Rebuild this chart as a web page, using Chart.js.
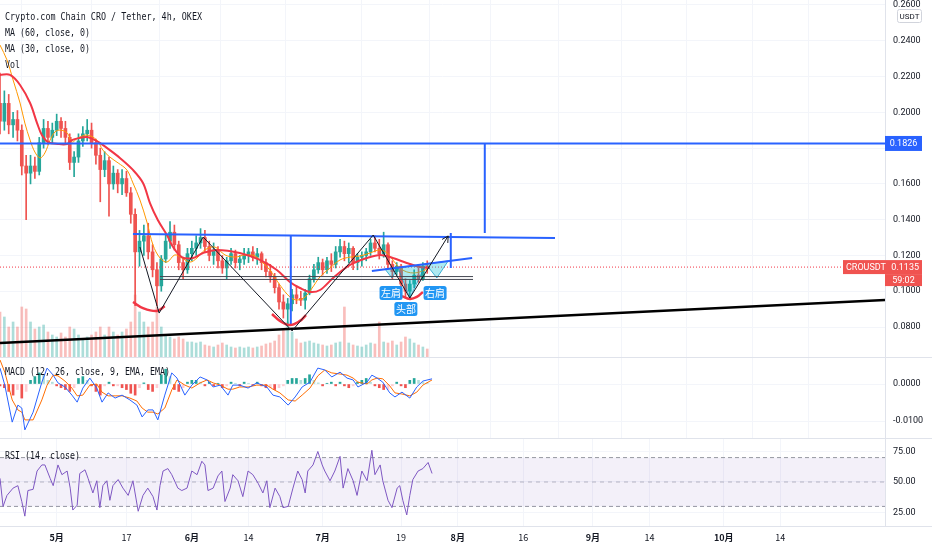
<!DOCTYPE html>
<html>
<head>
<meta charset="utf-8">
<script src="https://cdn.jsdelivr.net/npm/chart.js@4.4.0/dist/chart.umd.min.js"></script>
<style>
  html, body { margin: 0; padding: 0; background: #fff; width: 932px; height: 550px; overflow: hidden; }
  canvas { position: absolute; left: 0; }
  #cMain { top: 0; }
  #cMacd { top: 357px; }
  #cRsi { top: 438px; }
</style>
</head>
<body>
<canvas id="cMain" width="932" height="357"></canvas>
<canvas id="cMacd" width="932" height="81"></canvas>
<canvas id="cRsi" width="932" height="112"></canvas>
<script>
// day index 0 = 2021-04-18, one candle per day
const dayIdx = Array.from({ length: 99 }, (_, i) => i);

const openP = [0.205,0.195,0.205,0.193,0.196,0.190,0.170,0.166,0.170,0.167,
  0.183,0.191,0.186,0.190,0.195,0.191,0.186,0.172,0.175,0.184,
  0.188,0.190,0.183,0.176,0.168,0.173,0.160,0.166,0.160,0.163,
  0.155,0.143,0.122,0.128,0.131,0.122,0.112,0.103,0.118,0.128,
  0.133,0.126,0.116,0.112,0.121,0.124,0.127,0.130,0.125,0.120,
  0.123,0.117,0.113,0.117,0.121,0.116,0.118,0.120,0.122,0.119,
  0.121,0.116,0.111,0.108,0.102,0.094,0.090,0.093,0.098,0.096,
  0.095,0.099,0.107,0.112,0.116,0.112,0.117,0.115,0.122,0.125,
  0.121,0.124,0.116,0.119,0.120,0.122,0.127,0.124,0.121,0.126,
  0.115,0.111,0.114,0.104,0.100,0.104,0.109,0.107,0.114];
const highP = [0.222,0.212,0.210,0.200,0.201,0.193,0.176,0.176,0.175,0.186,
  0.196,0.195,0.194,0.199,0.197,0.195,0.188,0.178,0.188,0.192,
  0.196,0.194,0.185,0.180,0.178,0.175,0.170,0.168,0.168,0.167,
  0.158,0.146,0.134,0.137,0.138,0.126,0.116,0.120,0.132,0.139,
  0.137,0.128,0.119,0.124,0.128,0.131,0.135,0.134,0.128,0.127,
  0.125,0.120,0.119,0.124,0.123,0.120,0.124,0.124,0.125,0.124,
  0.122,0.118,0.115,0.110,0.104,0.098,0.096,0.101,0.103,0.100,
  0.101,0.109,0.115,0.119,0.118,0.119,0.121,0.125,0.129,0.128,
  0.127,0.125,0.121,0.122,0.124,0.129,0.131,0.129,0.133,0.127,
  0.117,0.116,0.115,0.107,0.106,0.112,0.113,0.116,0.117];
const lowP = [0.188,0.190,0.188,0.186,0.184,0.165,0.140,0.160,0.163,0.165,
  0.180,0.182,0.183,0.187,0.186,0.183,0.168,0.164,0.172,0.181,
  0.184,0.180,0.171,0.150,0.164,0.142,0.157,0.155,0.154,0.153,
  0.138,0.092,0.114,0.120,0.118,0.108,0.092,0.100,0.116,0.124,
  0.123,0.112,0.107,0.110,0.117,0.120,0.124,0.122,0.117,0.115,
  0.113,0.110,0.107,0.115,0.113,0.112,0.115,0.116,0.117,0.115,
  0.112,0.108,0.105,0.099,0.090,0.085,0.081,0.089,0.093,0.092,
  0.090,0.098,0.105,0.110,0.109,0.110,0.111,0.113,0.119,0.117,
  0.116,0.112,0.112,0.114,0.117,0.120,0.122,0.118,0.119,0.113,
  0.107,0.109,0.101,0.097,0.096,0.102,0.105,0.106,0.110];
const closeP = [0.195,0.205,0.193,0.196,0.190,0.170,0.166,0.170,0.167,0.183,
  0.191,0.186,0.190,0.195,0.191,0.186,0.172,0.175,0.184,0.188,
  0.190,0.183,0.176,0.168,0.173,0.160,0.166,0.160,0.163,0.155,
  0.143,0.122,0.128,0.131,0.122,0.112,0.103,0.118,0.128,0.133,
  0.126,0.116,0.112,0.121,0.124,0.127,0.130,0.125,0.120,0.123,
  0.117,0.113,0.117,0.121,0.116,0.118,0.120,0.122,0.119,0.121,
  0.116,0.111,0.108,0.102,0.094,0.090,0.093,0.098,0.096,0.095,
  0.099,0.107,0.112,0.116,0.112,0.117,0.115,0.122,0.125,0.121,
  0.124,0.116,0.119,0.120,0.122,0.127,0.124,0.121,0.126,0.115,
  0.111,0.114,0.104,0.100,0.104,0.109,0.107,0.114,0.1135];
const volume = [45,40,30,35,30,50,48,35,28,30,
  32,25,22,20,24,20,30,28,22,18,
  20,22,25,30,22,30,25,22,25,28,
  35,62,45,35,30,35,50,30,22,20,
  18,20,18,15,15,14,15,12,11,10,
  12,14,12,10,9,10,9,10,9,10,
  11,13,14,16,22,28,35,25,18,14,
  15,16,14,13,12,11,12,14,15,50,
  14,12,11,10,12,14,13,35,15,14,
  16,12,15,20,18,14,12,10,8];

// moving averages
const ma60Day = [0,2.3,4.6,6.9,8.5,9.6,11.0,13.3,15.4,16.5,18.3,20.0,21.8,22.9,25.2,27.5,30.5,32.8,34.4,36.2,
  38.3,39.7,41.7,44.3,46.6,49.8,55.0,59.6,63.5,66.5,68.8,71.1,73.4,76.4,80.3,84.2,87.2,90.1,93.3,96.3,98.6];
const ma60Val = [0.2209,0.2209,0.2153,0.2052,0.1940,0.1873,0.1834,0.1823,0.1823,0.1845,0.1857,0.1862,0.1845,0.1829,
  0.1789,0.1745,0.1678,0.1605,0.1493,0.1398,0.1314,0.1247,0.1191,0.1186,0.1214,0.1231,0.1214,0.1175,0.1119,
  0.1052,0.1018,0.0996,0.1007,0.1074,0.1147,0.1186,0.1203,0.1186,0.1158,0.1136,0.1130];
const ma30Day = [0,1.6,3.0,4.6,5.7,6.9,8.0,9.2,10.3,11.5,12.6,13.8,15.4,16.5,17.9,20.0,22.2,23.6,25.2,27.1,
  29.1,30.5,32.1,33.7,35.1,36.7,38.3,40.1,41.7,43.6,45.2,47.0,49.3,51.6,53.9,56.2,58.5,60.1,61.9,64.2,
  66.5,68.1,70.0,71.6,73.4,75.7,78.0,80.3,82.6,84.9,87.2,88.8,90.1,91.7,93.3,95.0,96.3,97.5,98.6];
const ma30Val = [0.2376,0.2293,0.2181,0.2052,0.1940,0.1845,0.1778,0.1745,0.1773,0.1845,0.1890,0.1901,0.1885,0.1834,
  0.1857,0.1873,0.1845,0.1789,0.1750,0.1717,0.1678,0.1605,0.1510,0.1387,0.1258,0.1186,0.1163,0.1203,0.1186,
  0.1163,0.1186,0.1231,0.1247,0.1203,0.1191,0.1203,0.1197,0.1163,0.1119,0.1035,0.0968,0.0951,0.0968,0.1018,
  0.1080,0.1130,0.1175,0.1191,0.1197,0.1214,0.1231,0.1214,0.1175,0.1130,0.1108,0.1102,0.1108,0.1119,0.1136];

// MACD pane (values in units of 0.001)
const MACD_UNIT = 0.001;
const macdDay = [0,1.1,2.8,4.1,5.0,5.7,7.6,9.6,10.8,12.2,13.3,14.9,16.5,17.7,19.0,20.6,22.2,23.4,24.8,26.4,
  28.0,29.8,31.4,32.6,33.9,35.1,36.2,37.8,39.4,40.6,42.4,44.0,45.9,47.5,48.9,50.5,52.3,53.4,55.0,56.9,
  58.9,61.2,62.6,64.2,66.1,67.7,69.3,71.1,72.9,74.5,76.1,78.0,79.6,81.0,82.1,84.2,85.3,86.5,87.8,89.4,
  90.6,92.2,94.0,95.6,97.0,99.1];
const macdVal = [4.3,-0.3,-10.3,-5.7,-6.5,-12.4,-7.6,0.5,4.3,2.4,0.3,-0.8,-3.0,-4.9,-1.1,1.6,-1.1,-4.9,-2.4,-3.8,
  -3.0,-4.3,-5.7,-8.9,-7.0,-7.0,-9.7,-3.0,3.0,1.6,-3.0,-0.3,1.9,1.1,-0.8,-0.3,-3.0,-0.3,-0.3,-1.1,
  0.3,-0.8,-3.0,-3.5,-5.7,-3.5,-0.8,0.5,4.3,3.8,1.9,3.2,1.6,1.1,-0.8,0.5,2.4,1.6,0.5,-2.4,
  -3.5,-2.2,-3.8,-0.8,0.8,1.4];
const signalVal = [6.5,3.2,-4.3,-7.0,-7.6,-9.7,-9.7,-4.3,-0.3,2.4,2.2,0.8,-1.1,-3.2,-3.0,-0.3,0,-2.2,-3.2,-3.2,
  -3.2,-3.8,-4.6,-6.5,-7.6,-7.6,-8.1,-6.5,-1.6,1.1,-0.3,-1.1,0.3,1.1,0.3,-0.3,-1.4,-1.4,-0.8,-0.8,
  -0.3,-0.3,-1.4,-2.4,-4.3,-4.6,-3.0,-1.1,2.2,3.8,3.0,2.7,2.4,1.6,0.5,0,1.1,1.6,1.4,-0.5,
  -2.4,-2.7,-3.2,-2.2,-0.3,1.1];
const histVal = [-0.5,-1.0,-2.0,-3.0,-1.5,-3.8,-2.0,1.0,2.0,3.0,
  2.5,1.0,0.5,-0.5,-1.0,-1.5,-2.0,-1.0,1.5,2.0,
  1.0,-0.5,-2.0,-3.0,-0.5,0.5,-0.5,-0.5,-1.0,-1.5,
  -2.5,-3.0,-1.0,0.3,-1.5,-2.0,-1.0,2.5,4.0,2.0,
  -1.5,-2.0,-1.0,0.5,1.0,1.0,0.5,-0.5,0.5,-0.5,
  0.2,-1.0,-0.5,0.5,0.2,-0.5,0.5,0.2,-0.3,0.5,
  -0.5,-1.0,-1.0,-1.5,-1.0,-0.5,1.0,1.5,1.5,1.0,
  1.5,2.5,1.0,0.3,-0.5,0.2,0.5,-0.5,0.5,-0.5,
  -1.0,-0.5,0.5,1.0,1.5,0.5,-0.5,-1.0,-1.5,-1.5,
  -0.5,0.5,-0.5,-1.0,1.0,1.5,1.0,0.5,0.3];

// RSI pane
const rsiDay = [0,0.7,1.6,3.0,4.1,5.0,5.7,6.4,7.6,8.5,9.6,10.3,11.5,12.2,13.3,14.2,15.4,16.1,16.7,17.7,
  18.3,19.5,20.2,21.3,22.2,22.9,23.6,24.5,25.2,25.9,27.1,28.2,29.4,30.5,31.7,32.8,33.9,35.1,36.0,36.7,
  37.4,38.5,39.4,40.8,41.7,42.9,44.0,45.2,46.3,47.0,47.7,48.9,50.0,50.9,51.6,52.8,53.4,54.6,55.7,56.9,
  58.0,59.2,60.3,61.2,61.9,63.1,64.2,64.9,66.1,67.2,68.3,69.3,70.0,70.6,71.8,72.9,73.9,74.5,75.7,76.8,
  78.0,78.7,79.8,81.0,81.9,83.0,84.2,85.3,86.0,87.2,87.8,89.0,89.9,91.1,91.7,92.4,93.3,94.0,94.7,95.9,
  97.0,98.2,99.1];
const rsiVal = [53,30,39,45,47,34,22,43,44,59,64,64,53,47,64,56,59,45,27,31,
  57,60,53,41,51,29,47,51,35,47,52,45,39,51,26,39,45,38,27,47,
  59,61,56,45,43,45,59,56,67,64,43,45,55,59,34,45,56,51,38,59,
  56,49,41,51,29,45,38,29,30,45,59,52,41,59,64,75,64,59,51,59,
  71,45,61,51,39,59,51,76,56,64,51,35,29,45,47,35,23,39,52,59,
  61,66,57];
const rsiBands = [70, 50, 30];

// axes
const X_MAX = 203;
const priceTicks = [0.08, 0.10, 0.12, 0.14, 0.16, 0.18, 0.20, 0.22, 0.24, 0.26];
const macdTicks = [0, -0.01];
const rsiTicks = [75, 50, 25];
const dateTickDay = [13, 29, 44, 57, 74, 92, 105, 120, 136, 149, 166, 179];
const dateTickLabel = ['5月', '17', '6月', '14', '7月', '19', '8月', '16', '9月', '14', '10月', '14'];
const lastPrice = 0.1135;
const keyLevel = 0.1826;

// drawings on the price pane
const zigDay = [32.1, 36.5, 46.6, 67.0, 85.6, 94.0, 102.8];
const zigVal = [0.1247, 0.0878, 0.1303, 0.0778, 0.1314, 0.0962, 0.1309];
const arcADay = [30.5, 32.8, 36.0, 37.8], arcAVal = [0.0940, 0.0906, 0.0890, 0.0917];
const arcBDay = [62.4, 64.2, 66.5, 68.8, 70.2], arcBVal = [0.0873, 0.0834, 0.0811, 0.0834, 0.0867];
const arcCDay = [92.2, 94.0, 95.6, 97.0], arcCVal = [0.0973, 0.0957, 0.0968, 0.0996];
const neckBigDay = [30.5, 127.3], neckBigVal = [0.1320, 0.1298];
const neckSmallDay = [85.3, 108.3], neckSmallVal = [0.1113, 0.1186];
const headDepthDay = [66.7, 66.7], headDepthVal = [0.1314, 0.0811];
const targetBigDay = [111.2, 111.2], targetBigVal = [keyLevel, 0.1325];
const targetSmallDay = [103.4, 103.4], targetSmallVal = [0.1325, 0.1130];
const supportDay = [36.7, 108.5], supportVal = [0.1082, 0.1066];
const trendDay = [0, X_MAX], trendVal = [0.0711, 0.0951];
const shoulderLDay = [88.3, 89.9, 91.3, 88.3], shoulderLVal = [0.1124, 0.1074, 0.1130, 0.1124];
const headDay = [91.3, 94.0, 97.7, 91.3], headVal = [0.1130, 0.0962, 0.1152, 0.1130];
const shoulderRDay = [97.7, 100.2, 102.8, 97.7], shoulderRVal = [0.1152, 0.1074, 0.1169, 0.1152];
const patternLabels = [[89.7, 0.0990, '左肩'], [93.1, 0.0901, '头部'], [99.8, 0.0990, '右肩']];

const UP = '#26a69a', DOWN = '#ef5350', BLUE = '#2962ff', MARED = '#f23645';
const TEXT = '#131722', GRID = '#f3f5fa', EDGE = '#e0e3eb';

const xy = (xs, ys, k = 1) => xs.map((x, i) => ({ x: x, y: ys[i] * k }));
const line = (data, color, width, extra = {}) => Object.assign({
  type: 'line', data: data, borderColor: color, borderWidth: width,
  pointRadius: 0, fill: false, tension: 0, order: 0
}, extra);

function dateAxis(showLabels) {
  return {
    type: 'linear', min: 0, max: X_MAX, offset: false,
    afterBuildTicks: ax => { ax.ticks = dateTickDay.map(v => ({ value: v })); },
    afterFit: ax => { ax.height = showLabels ? 24 : 0; ax.paddingLeft = 0; ax.paddingRight = 0; },
    grid: { color: GRID, drawTicks: false },
    border: { display: false },
    ticks: {
      display: showLabels, padding: 6, color: TEXT, maxRotation: 0, autoSkip: false,
      callback: (v, i) => dateTickLabel[i],
      font: c => ({
        family: '"Noto Sans CJK SC", Roboto, sans-serif', size: 9,
        weight: /月/.test(dateTickLabel[c.index] || '') ? 'bold' : 'normal'
      })
    }
  };
}

function valueAxis(min, max, ticks, digits) {
  return {
    type: 'linear', position: 'right', min: min, max: max,
    afterBuildTicks: ax => { ax.ticks = ticks.map(v => ({ value: v })); },
    afterFit: ax => { ax.width = 47; ax.paddingTop = 0; ax.paddingBottom = 0; },
    grid: { color: GRID, drawTicks: false },
    border: { display: true, color: EDGE },
    ticks: { padding: 8, color: TEXT, font: { family: 'Roboto', size: 9 }, callback: v => v.toFixed(digits) }
  };
}

const baseOptions = {
  responsive: false, animation: false, events: [],
  layout: { padding: 0, autoPadding: false },
  plugins: { legend: { display: false }, tooltip: { enabled: false } }
};

function box(ctx, x, y, w, h, r) {
  ctx.beginPath();
  ctx.moveTo(x + r, y);
  ctx.lineTo(x + w - r, y); ctx.quadraticCurveTo(x + w, y, x + w, y + r);
  ctx.lineTo(x + w, y + h - r); ctx.quadraticCurveTo(x + w, y + h, x + w - r, y + h);
  ctx.lineTo(x + r, y + h); ctx.quadraticCurveTo(x, y + h, x, y + h - r);
  ctx.lineTo(x, y + r); ctx.quadraticCurveTo(x, y, x + r, y);
  ctx.closePath();
}

function paneTitle(ctx, rows, y0) {
  ctx.save();
  ctx.fillStyle = TEXT;
  ctx.font = '10px "DejaVu Sans Mono"';
  ctx.textBaseline = 'middle';
  ctx.textAlign = 'left';
  rows.forEach((r, i) => ctx.fillText(r[0], 5, y0 + 16 * i, r[1]));
  ctx.restore();
}

const mainOverlay = {
  id: 'mainOverlay',
  afterDatasetsDraw(chart) {
    const ctx = chart.ctx, xs = chart.scales.x, ys = chart.scales.y;
    ctx.save();
    // arrow head at the end of the zigzag
    const n = zigDay.length;
    const x1 = xs.getPixelForValue(zigDay[n - 2]), y1 = ys.getPixelForValue(zigVal[n - 2]);
    const x2 = xs.getPixelForValue(zigDay[n - 1]), y2 = ys.getPixelForValue(zigVal[n - 1]);
    const a = Math.atan2(y2 - y1, x2 - x1);
    ctx.strokeStyle = TEXT; ctx.lineWidth = 1;
    ctx.beginPath();
    ctx.moveTo(x2 - 7 * Math.cos(a - 0.5), y2 - 7 * Math.sin(a - 0.5));
    ctx.lineTo(x2, y2);
    ctx.lineTo(x2 - 7 * Math.cos(a + 0.5), y2 - 7 * Math.sin(a + 0.5));
    ctx.stroke();
    // pattern labels
    ctx.font = '10px "Noto Sans CJK SC"';
    ctx.textAlign = 'center'; ctx.textBaseline = 'middle';
    patternLabels.forEach(([d, v, t]) => {
      const px = xs.getPixelForValue(d), py = ys.getPixelForValue(v);
      ctx.fillStyle = '#2196f3';
      box(ctx, px - 11.5, py - 7, 23, 14, 2.5); ctx.fill();
      ctx.fillStyle = '#fff';
      ctx.fillText(t, px, py + 0.5);
    });
    ctx.restore();
  },
  afterDraw(chart) {
    const ctx = chart.ctx, ys = chart.scales.y;
    paneTitle(ctx, [['Crypto.com Chain CRO / Tether, 4h, OKEX', 197], ['MA (60, close, 0)', 85],
      ['MA (30, close, 0)', 85], ['Vol', 15]], 17);
    ctx.save();
    ctx.textBaseline = 'middle';
    // key level tag
    const ky = ys.getPixelForValue(keyLevel);
    ctx.fillStyle = BLUE;
    ctx.fillRect(885, ky - 7.5, 37, 15);
    ctx.fillStyle = '#fff'; ctx.font = '9px Roboto'; ctx.textAlign = 'center';
    ctx.fillText(keyLevel.toFixed(4), 903.5, ky + 0.5);
    // last price tag
    const py = ys.getPixelForValue(lastPrice);
    ctx.fillStyle = '#f05350';
    ctx.fillRect(843, py - 7, 79, 14);
    ctx.fillRect(885, py + 7, 37, 12);
    ctx.fillStyle = '#fff';
    ctx.textAlign = 'left'; ctx.fillText('CROUSDT', 846, py + 0.5);
    ctx.textAlign = 'right'; ctx.fillText(lastPrice.toFixed(4), 919, py + 0.5);
    ctx.textAlign = 'center'; ctx.fillText('59:02', 903.5, py + 13.5);
    // currency tag
    ctx.fillStyle = '#fff'; ctx.strokeStyle = '#d1d4dc'; ctx.lineWidth = 1;
    box(ctx, 897.5, 9.5, 24, 13, 2); ctx.fill(); ctx.stroke();
    ctx.fillStyle = TEXT; ctx.font = '8px Roboto';
    ctx.fillText('USDT', 909.5, 16.5);
    ctx.restore();
  }
};

const candleColor = dayIdx.map(i => closeP[i] >= openP[i] ? UP : DOWN);
const volColor = dayIdx.map(i => closeP[i] >= openP[i] ? 'rgba(38,166,154,0.38)' : 'rgba(239,83,80,0.38)');
const triFill = { fill: 'shape', backgroundColor: 'rgba(0,188,212,0.32)' };

new Chart(document.getElementById('cMain'), {
  type: 'bar',
  data: {
    datasets: [
      line(xy(zigDay, zigVal), TEXT, 1),
      line(xy(arcADay, arcAVal), MARED, 2.5, { tension: 0.4 }),
      line(xy(arcBDay, arcBVal), MARED, 2.5, { tension: 0.4 }),
      line(xy(arcCDay, arcCVal), MARED, 2.5, { tension: 0.4 }),
      line(xy([0, X_MAX], [keyLevel, keyLevel]), BLUE, 2),
      line(xy(neckBigDay, neckBigVal), BLUE, 2),
      line(xy(neckSmallDay, neckSmallVal), BLUE, 2),
      line(xy(headDepthDay, headDepthVal), BLUE, 2),
      line(xy(targetBigDay, targetBigVal), BLUE, 2),
      line(xy(targetSmallDay, targetSmallVal), BLUE, 2),
      line(xy(supportDay, [supportVal[0], supportVal[0]]), '#434651', 1),
      line(xy(supportDay, [supportVal[1], supportVal[1]]), '#434651', 1),
      line(xy(trendDay, trendVal), '#000', 2.5),
      line(xy(shoulderLDay, shoulderLVal), 'rgba(0,150,200,0.7)', 1, triFill),
      line(xy(headDay, headVal), 'rgba(0,150,200,0.7)', 1, triFill),
      line(xy(shoulderRDay, shoulderRVal), 'rgba(0,150,200,0.7)', 1, triFill),
      line(xy(ma60Day, ma60Val), MARED, 2, { tension: 0.35, order: 1 }),
      line(xy(ma30Day, ma30Val), '#ff9800', 1, { tension: 0.35, order: 1 }),
      line(xy([0, X_MAX], [lastPrice, lastPrice]), MARED, 1, { borderDash: [1, 2], order: 2 }),
      { type: 'bar', data: dayIdx.map(i => ({ x: i, y: [openP[i], closeP[i]] })), backgroundColor: candleColor,
        barThickness: 3, grouped: false, order: 3 },
      { type: 'bar', data: dayIdx.map(i => ({ x: i, y: [lowP[i], highP[i]] })), backgroundColor: candleColor,
        barThickness: 1, grouped: false, order: 4 },
      { type: 'bar', data: dayIdx.map(i => ({ x: i, y: volume[i] })), backgroundColor: volColor,
        barThickness: 2, grouped: false, order: 5, yAxisID: 'yv' }
    ]
  },
  options: Object.assign({}, baseOptions, {
    scales: {
      x: dateAxis(false),
      y: valueAxis(0.06324, 0.26279, priceTicks, 4),
      yv: { type: 'linear', display: false, min: 0, max: 357 }
    }
  }),
  plugins: [mainOverlay]
});

const histColor = histVal.map((v, i) => {
  const p = i ? histVal[i - 1] : 0;
  return v >= 0 ? (v >= p ? '#26a69a' : '#b2dfdb') : (v < p ? '#ef5350' : '#ffcdd2');
});

const macdOverlay = {
  id: 'macdOverlay',
  afterDraw(chart) {
    const ctx = chart.ctx;
    paneTitle(ctx, [['MACD (12, 26, close, 9, EMA, EMA)', 165]], 15);
    ctx.save();
    ctx.fillStyle = EDGE; ctx.fillRect(0, 0, 932, 1);
    ctx.restore();
  }
};

new Chart(document.getElementById('cMacd'), {
  type: 'bar',
  data: {
    datasets: [
      line(xy(macdDay, macdVal, MACD_UNIT), '#2962ff', 1, { order: 0 }),
      line(xy(macdDay, signalVal, MACD_UNIT), '#ff6d00', 1, { order: 1 }),
      { type: 'bar', data: dayIdx.map(i => ({ x: i, y: histVal[i] * MACD_UNIT })), backgroundColor: histColor,
        barThickness: 2, grouped: false, order: 2 }
    ]
  },
  options: Object.assign({}, baseOptions, {
    scales: { x: dateAxis(false), y: valueAxis(-0.01459, 0.0073, macdTicks, 4) }
  }),
  plugins: [macdOverlay]
});

const rsiOverlay = {
  id: 'rsiOverlay',
  afterDraw(chart) {
    const ctx = chart.ctx;
    paneTitle(ctx, [['RSI (14, close)', 75]], 18);
    ctx.save();
    ctx.fillStyle = EDGE;
    ctx.fillRect(0, 0, 932, 1);
    ctx.fillRect(0, Math.round(chart.chartArea.bottom), 932, 1);
    ctx.restore();
  }
};

new Chart(document.getElementById('cRsi'), {
  type: 'line',
  data: {
    datasets: [
      line(xy(rsiDay, rsiVal), '#7e57c2', 1, { order: 0 }),
      line(xy([0, X_MAX], [rsiBands[0], rsiBands[0]]), '#9598a1', 1,
        { borderDash: [4, 3], fill: '+1', backgroundColor: 'rgba(126,87,194,0.09)', order: 2 }),
      line(xy([0, X_MAX], [rsiBands[2], rsiBands[2]]), '#9598a1', 1, { borderDash: [4, 3], order: 2 }),
      line(xy([0, X_MAX], [rsiBands[1], rsiBands[1]]), 'rgba(149,152,161,0.6)', 1, { borderDash: [4, 4], order: 2 })
    ]
  },
  options: Object.assign({}, baseOptions, {
    scales: { x: dateAxis(true), y: valueAxis(13.93, 86.07, rsiTicks, 2) }
  }),
  plugins: [rsiOverlay]
});
</script>
</body>
</html>
